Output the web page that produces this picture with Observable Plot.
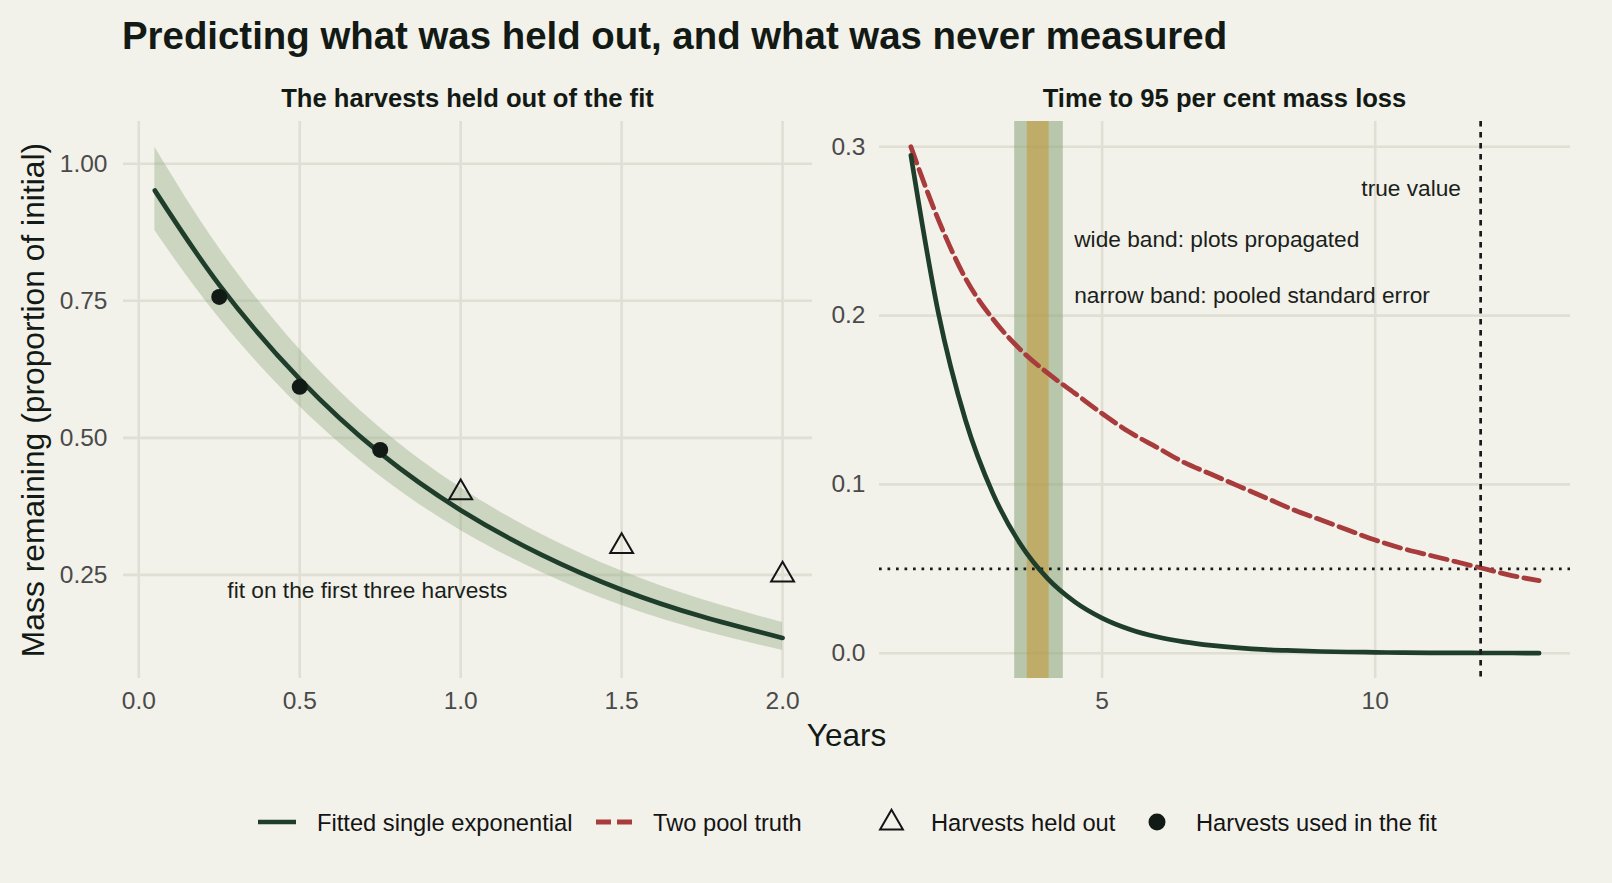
<!DOCTYPE html>
<html><head><meta charset="utf-8">
<script src="https://cdn.jsdelivr.net/npm/d3@7"></script>
<script src="https://cdn.jsdelivr.net/npm/@observablehq/plot@0.6"></script>
<style>
html,body{margin:0;padding:0;background:#f2f1ea;}
#root{position:relative;width:1612px;height:883px;overflow:hidden;background:#f2f1ea;}
#root svg{position:absolute;}
</style></head><body><div id="root"></div>
<script>
// ---------- data ----------
const titleText = "Predicting what was held out, and what was never measured";
const panelTitles = ["The harvests held out of the fit", "Time to 95 per cent mass loss"];
const yAxisTitle = "Mass remaining (proportion of initial)";
const xAxisTitle = "Years";

// left panel: fitted single exponential with its band
const fitX     = [0.05, 0.25, 0.5, 0.75, 1.0, 1.25, 1.5, 1.75, 2.0];
const fitY     = [0.951, 0.779, 0.607, 0.472, 0.368, 0.287, 0.223, 0.174, 0.135];
const bandLow  = [0.878, 0.718, 0.557, 0.430, 0.331, 0.255, 0.194, 0.148, 0.112];
const bandHigh = [1.030, 0.846, 0.661, 0.518, 0.409, 0.324, 0.257, 0.205, 0.163];
const usedX = [0.25, 0.5, 0.75];
const usedY = [0.757, 0.593, 0.478];
const heldX = [1.0, 1.5, 2.0];
const heldY = [0.400, 0.302, 0.250];
const leftXTicks = [0, 0.5, 1, 1.5, 2];
const leftXLabels = ["0.0", "0.5", "1.0", "1.5", "2.0"];
const leftYTicks = [0.25, 0.5, 0.75, 1.0];
const leftYLabels = ["0.25", "0.50", "0.75", "1.00"];
const leftNote = {x: 0.71, y: 0.222, text: "fit on the first three harvests"};

// right panel: long-term extrapolation vs two-pool truth
const longX = [1.5, 2, 2.5, 3, 3.5, 4, 4.5, 5, 5.5, 6, 6.5, 7, 7.5, 8, 8.5, 9, 9.5, 10, 10.5, 11, 11.5, 12, 12.5, 13];
const fittedLong = [0.295, 0.202, 0.138, 0.0947, 0.0648, 0.0443, 0.0304, 0.0208, 0.0142, 0.0097, 0.0067, 0.0046,
                    0.0031, 0.0021, 0.0015, 0.0010, 0.0007, 0.0005, 0.0003, 0.0002, 0.0002, 0.0001, 0.0001, 0.0000];
const truthLong = [0.300, 0.257, 0.222, 0.198, 0.180, 0.166, 0.154, 0.142, 0.131, 0.122, 0.113, 0.106,
                   0.099, 0.092, 0.085, 0.079, 0.073, 0.067, 0.062, 0.058, 0.054, 0.050, 0.046, 0.043];
const wideBand = [3.40, 4.29];
const narrowBand = [3.63, 4.03];
const threshold = 0.05;
const trueT95 = 11.93;
const rightXTicks = [5, 10];
const rightXLabels = ["5", "10"];
const rightYTicks = [0, 0.1, 0.2, 0.3];
const rightYLabels = ["0.0", "0.1", "0.2", "0.3"];
const trueNote = {x: 11.57, y: 0.275, text: "true value"};
const bandNotes = [
  {x: 4.49, y: 0.245, text: "wide band: plots propagated"},
  {x: 4.49, y: 0.212, text: "narrow band: pooled standard error"}
];
const legendItems = ["Fitted single exponential", "Two pool truth", "Harvests held out", "Harvests used in the fit"];

// ---------- style ----------
const FONT = '"Liberation Sans", Arial, Helvetica, sans-serif';
const GRID = "#e0dfd4";
const GREEN = "#1f3d2b";
const RED = "#a83c3c";
const INK = "#131a15";
const TICK = "#4a4a4a";
const BANDG = "#83a172";

const fit = fitX.map((x, i) => ({x, y: fitY[i], lo: bandLow[i], hi: bandHigh[i]}));
const used = usedX.map((x, i) => ({x, y: usedY[i]}));
const held = heldX.map((x, i) => ({x, y: heldY[i]}));
const fittedRows = longX.map((x, i) => ({x, y: fittedLong[i]}));
const truthRows = longX.map((x, i) => ({x, y: truthLong[i]}));
const fmt = (ticks, labels) => { const m = new Map(ticks.map((t, i) => [t, labels[i]])); return d => m.get(d); };

const root = document.getElementById("root");
const gridOpts = {stroke: GRID, strokeOpacity: 1, strokeWidth: 2.6};

const leftPlot = Plot.plot({
  width: 820, height: 640,
  marginLeft: 123, marginRight: 8, marginTop: 41, marginBottom: 42,
  style: {background: "transparent", fontFamily: FONT, overflow: "visible"},
  x: {domain: [-0.0475, 2.093]},
  y: {domain: [0.061, 1.077]},
  marks: [
    Plot.gridX(leftXTicks, gridOpts),
    Plot.gridY(leftYTicks, gridOpts),
    Plot.areaY(fit, {x: "x", y1: "lo", y2: "hi", fill: BANDG, fillOpacity: 0.35, curve: "natural"}),
    Plot.line(fit, {x: "x", y: "y", stroke: GREEN, strokeWidth: 4.7, curve: "natural"}),
    Plot.dot(used, {x: "x", y: "y", r: 8, fill: "#111a14", stroke: "none"}),
    Plot.dot(held, {x: "x", y: "y", symbol: "triangle", r: 8.5, fill: "none", stroke: "#151515", strokeWidth: 2}),
    Plot.text([leftNote], {x: "x", y: "y", text: "text", fontSize: 22.7, fill: "#1b1f1b", textAnchor: "middle"}),
    Plot.axisX(leftXTicks, {tickSize: 0, tickPadding: 13, fontSize: 24.5, color: TICK, label: null, tickFormat: fmt(leftXTicks, leftXLabels)}),
    Plot.axisY(leftYTicks, {tickSize: 0, tickPadding: 16, fontSize: 24.5, color: TICK, label: null, tickFormat: fmt(leftYTicks, leftYLabels)})
  ]
});
leftPlot.style.left = "0px"; leftPlot.style.top = "80px";
root.appendChild(leftPlot);

const rightPlot = Plot.plot({
  width: 792, height: 640,
  marginLeft: 59, marginRight: 42, marginTop: 41, marginBottom: 42,
  style: {background: "transparent", fontFamily: FONT, overflow: "visible"},
  x: {domain: [0.925, 13.575]},
  y: {domain: [-0.015, 0.315]},
  marks: [
    Plot.gridX(rightXTicks, gridOpts),
    Plot.gridY(rightYTicks, gridOpts),
    Plot.rect([wideBand], {x1: d => d[0], x2: d => d[1], fill: BANDG, fillOpacity: 0.52}),
    Plot.rect([narrowBand], {x1: d => d[0], x2: d => d[1], fill: "#c49632", fillOpacity: 0.55}),
    Plot.ruleY([threshold], {stroke: "#1a1a1a", strokeWidth: 2.7, strokeDasharray: "2.7,5.8"}),
    Plot.line(truthRows, {x: "x", y: "y", stroke: RED, strokeWidth: 4.8, strokeDasharray: "17,7", curve: "monotone-x"}),
    Plot.line(fittedRows, {x: "x", y: "y", stroke: GREEN, strokeWidth: 4.7, curve: "monotone-x"}),
    Plot.ruleX([trueT95], {stroke: "#1a1a1a", strokeWidth: 2.7, strokeDasharray: "5.5,5.5"}),
    Plot.text([trueNote], {x: "x", y: "y", text: "text", textAnchor: "end", fontSize: 22.7, fill: "#1b1f1b"}),
    Plot.text(bandNotes, {x: "x", y: "y", text: "text", textAnchor: "start", fontSize: 22.7, fill: "#1b1f1b"}),
    Plot.axisX(rightXTicks, {tickSize: 0, tickPadding: 13, fontSize: 24.5, color: TICK, label: null, tickFormat: fmt(rightXTicks, rightXLabels)}),
    Plot.axisY(rightYTicks, {tickSize: 0, tickPadding: 14, fontSize: 24.5, color: TICK, label: null, tickFormat: fmt(rightYTicks, rightYLabels)})
  ]
});
rightPlot.style.left = "820px"; rightPlot.style.top = "80px";
root.appendChild(rightPlot);

// ---------- overlay: titles, axis titles, legend ----------
const ov = d3.select(root).append("svg")
  .attr("width", 1612).attr("height", 883)
  .style("left", "0px").style("top", "0px")
  .attr("font-family", FONT);

ov.append("text").attr("x", 122).attr("y", 49).attr("font-size", 38.4).attr("font-weight", "bold")
  .attr("fill", INK).text(titleText);
ov.append("text").attr("x", 467.5).attr("y", 107).attr("font-size", 25.6).attr("font-weight", "bold")
  .attr("text-anchor", "middle").attr("fill", INK).text(panelTitles[0]);
ov.append("text").attr("x", 1224.5).attr("y", 107).attr("font-size", 25.6).attr("font-weight", "bold")
  .attr("text-anchor", "middle").attr("fill", INK).text(panelTitles[1]);
ov.append("text").attr("transform", "translate(44,400) rotate(-90)").attr("font-size", 31.8)
  .attr("text-anchor", "middle").attr("fill", INK).text(yAxisTitle);
ov.append("text").attr("x", 846.5).attr("y", 746).attr("font-size", 31.5)
  .attr("text-anchor", "middle").attr("fill", INK).text(xAxisTitle);

// legend
const lg = ov.append("g");
lg.append("line").attr("x1", 258).attr("x2", 296).attr("y1", 822).attr("y2", 822)
  .attr("stroke", GREEN).attr("stroke-width", 4.7);
lg.append("line").attr("x1", 596).attr("x2", 632).attr("y1", 822).attr("y2", 822)
  .attr("stroke", RED).attr("stroke-width", 4.8).attr("stroke-dasharray", "15,6");
lg.append("path").attr("d", d3.symbol(d3.symbolTriangle, 226)()).attr("transform", "translate(891.5,823)")
  .attr("fill", "none").attr("stroke", "#151515").attr("stroke-width", 2);
lg.append("circle").attr("cx", 1157).attr("cy", 822).attr("r", 8.5).attr("fill", "#111a14");
const lx = [317, 653, 931, 1196];
legendItems.forEach((t, i) => {
  lg.append("text").attr("x", lx[i]).attr("y", 831).attr("font-size", 23.7).attr("fill", "#141414").text(t);
});
</script></body></html>
